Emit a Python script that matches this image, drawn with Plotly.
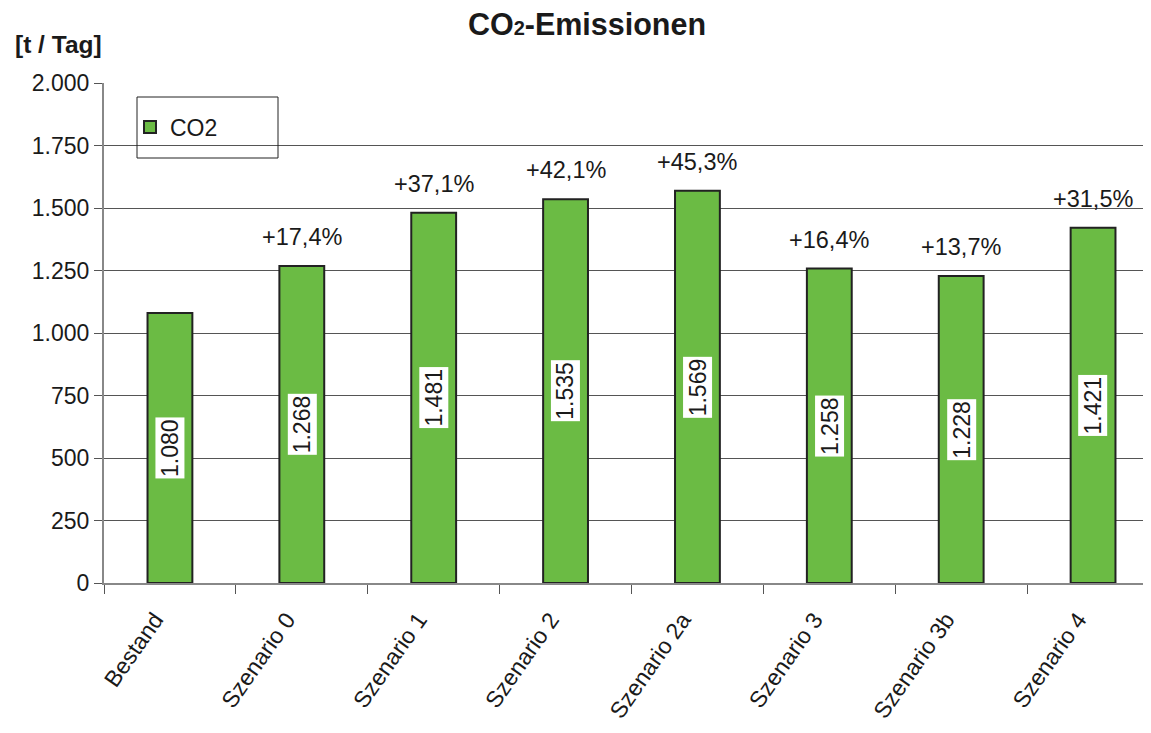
import plotly.graph_objects as go

categories = ["Bestand", "Szenario 0", "Szenario 1", "Szenario 2", "Szenario 2a",
              "Szenario 3", "Szenario 3b", "Szenario 4"]
values = [1080, 1268, 1481, 1535, 1569, 1258, 1228, 1421]
changes = ["", "+17,4%", "+37,1%", "+42,1%", "+45,3%", "+16,4%", "+13,7%", "+31,5%"]
y_ticks = [0, 250, 500, 750, 1000, 1250, 1500, 1750, 2000]

FONT = "Liberation Sans, Arial, sans-serif"
TXT = "#1a1a1a"

W, H = 1151, 733
OFF = 8  # page body margin
L, T, B = 96, 75, 158
PW, PH = W - L, H - T - B

def px_x(sx):
    return (sx - OFF - L) / PW

def px_y(sy):
    return (H - B - (sy - OFF)) / PH

fig = go.Figure()
fig.add_trace(go.Bar(
    x=categories, y=values, name="CO2", width=0.34,
    marker=dict(color="#6BBB44", line=dict(color="#222222", width=2)),
))

# value labels (rotated, white background, centered in bar)
for c, v in zip(categories, values):
    fig.add_annotation(
        x=c, y=v / 2, xref="x", yref="y",
        text=f"{v:,}".replace(",", "."), textangle=-90, showarrow=False,
        bgcolor="white", borderpad=1,
        font=dict(family=FONT, size=23, color=TXT),
    )
# percentage labels above bars
for c, v, p in zip(categories, values, changes):
    if p:
        fig.add_annotation(
            x=c, y=v, xref="x", yref="y", text=p, showarrow=False,
            yanchor="middle", yshift=29,
            font=dict(family=FONT, size=23.5, color=TXT),
        )

fig.add_annotation(
    x=px_x(13), y=px_y(45), xref="paper", yref="paper", xanchor="left", yanchor="middle",
    text="<b>[t / Tag]</b>", showarrow=False,
    font=dict(family=FONT, size=24.5, color=TXT),
)

# legend frame
fig.add_shape(type="rect", xref="paper", yref="paper",
              x0=px_x(137), x1=px_x(278), y0=px_y(158), y1=px_y(97),
              line=dict(color="#222222", width=1), fillcolor="rgba(0,0,0,0)")

fig.update_layout(
    width=W, height=H,
    margin=dict(l=L, r=0, t=T, b=B, autoexpand=False),
    paper_bgcolor="white", plot_bgcolor="white",
    separators=",.",
    font=dict(family=FONT, size=23, color=TXT),
    title=dict(text="<b>CO<span style='font-size:20px'>2</span>-Emissionen</b>",
               x=(587 - OFF) / W, xref="container",
               xanchor="center", y=1 - (24 - OFF) / H, yref="container", yanchor="middle",
               font=dict(family=FONT, size=30.5, color=TXT)),
    showlegend=True,
    legend=dict(x=px_x(130), y=px_y(127), xanchor="left", yanchor="middle",
                bgcolor="rgba(0,0,0,0)", borderwidth=0,
                font=dict(family=FONT, size=23, color=TXT)),
    xaxis=dict(
        type="category", range=[-0.5, 7.5], tickangle=-55, automargin=False,
        tickson="boundaries", ticks="outside", ticklen=9, tickcolor="#555555",
        ticklabelstandoff=12, ticklabelshift=-15,
        showline=True, linecolor="#888888", linewidth=2,
        showgrid=False, tickfont=dict(family=FONT, size=23, color=TXT),
    ),
    yaxis=dict(
        range=[0, 2000], tickvals=y_ticks, tickformat=",d", automargin=False,
        ticks="outside", ticklen=8, tickcolor="#555555",
        showline=True, linecolor="#888888", linewidth=2,
        showgrid=True, gridcolor="#555555", gridwidth=1,
        zeroline=False, tickfont=dict(family=FONT, size=23, color=TXT),
    ),
    bargap=0.66,
)

fig.write_html("out.html")
